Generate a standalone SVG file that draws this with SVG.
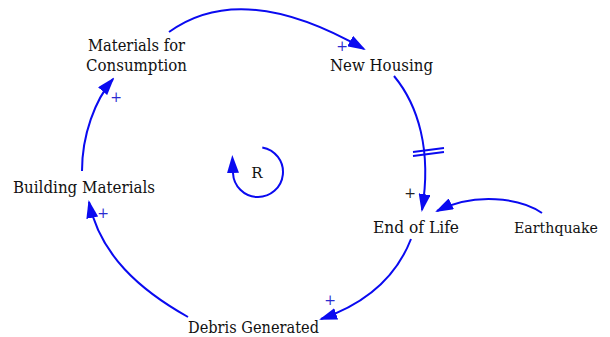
<svg xmlns="http://www.w3.org/2000/svg" width="610" height="337" viewBox="0 0 610 337">
<style>
.lbl{font-family:'DejaVu Serif','Liberation Serif',serif;font-size:17.5px;fill:#111;text-anchor:middle}
.lnk{fill:none;stroke:#0a0af0;stroke-width:2}
.pol{font-family:'DejaVu Serif',serif;font-size:14px;fill:#2a2ad0;text-anchor:middle}
.polk{font-family:'DejaVu Serif',serif;font-size:14px;fill:#222;text-anchor:middle}
</style>
<defs>
<marker id="ah" markerUnits="userSpaceOnUse" markerWidth="18" markerHeight="12" viewBox="0 0 18 12" refX="16" refY="6" orient="auto">
<path d="M0,0 L18,6 L0,12 Z" fill="#0a0af0"/>
</marker>
<marker id="ah0" markerUnits="userSpaceOnUse" markerWidth="18" markerHeight="12" viewBox="0 0 18 12" refX="0" refY="6" orient="auto">
<path d="M0,0 L18,6 L0,12 Z" fill="#0a0af0"/>
</marker>
</defs>
<g id="connectors">
<path class="lnk" d="M169,32 Q242,-21 364,49" marker-end="url(#ah)"/>
<path class="lnk" d="M394,76 C418,105 432,150 422,210" marker-end="url(#ah)"/>
<path class="lnk" d="M413,152 L444,148 M413,156 L444,152"/>
<path class="lnk" d="M542,213 C520,198 475,192 437,211" marker-end="url(#ah)"/>
<path class="lnk" d="M411,239 C395,280 362,305 321,319" marker-end="url(#ah)"/>
<path class="lnk" d="M188,317 C140,290 100,255 89,202" marker-end="url(#ah)"/>
<path class="lnk" d="M82,171 C82,135 95,100 113,79" marker-end="url(#ah)"/>
<path class="lnk" d="M262.3,147.4 A25,25 0 1 1 233,173" marker-end="url(#ah0)"/>
</g>
<g id="materials-for-consumption"><text class="lbl" x="136.5" y="51" textLength="97" lengthAdjust="spacingAndGlyphs">Materials for</text><text class="lbl" x="136.5" y="71" textLength="101" lengthAdjust="spacingAndGlyphs">Consumption</text></g>
<g id="new-housing"><text class="lbl" x="381.5" y="71" textLength="103" lengthAdjust="spacingAndGlyphs">New Housing</text></g>
<g id="building-materials"><text class="lbl" x="84" y="193" textLength="142" lengthAdjust="spacingAndGlyphs">Building Materials</text></g>
<g id="end-of-life"><text class="lbl" x="416" y="233" textLength="86" lengthAdjust="spacingAndGlyphs">End of Life</text></g>
<g id="earthquake"><text class="lbl" x="556" y="233" style="font-size:15px" textLength="84" lengthAdjust="spacingAndGlyphs">Earthquake</text></g>
<g id="debris-generated"><text class="lbl" x="253.5" y="333" textLength="131" lengthAdjust="spacingAndGlyphs">Debris Generated</text></g>
<g id="loop"><text class="lbl" x="257" y="178" style="font-size:15px">R</text></g>
<g id="polarities">
<text class="pol" x="342" y="51">+</text>
<text class="polk" x="410" y="198">+</text>
<text class="pol" x="330" y="305">+</text>
<text class="pol" x="103" y="218">+</text>
<text class="pol" x="116" y="102">+</text>
</g>
</svg>
